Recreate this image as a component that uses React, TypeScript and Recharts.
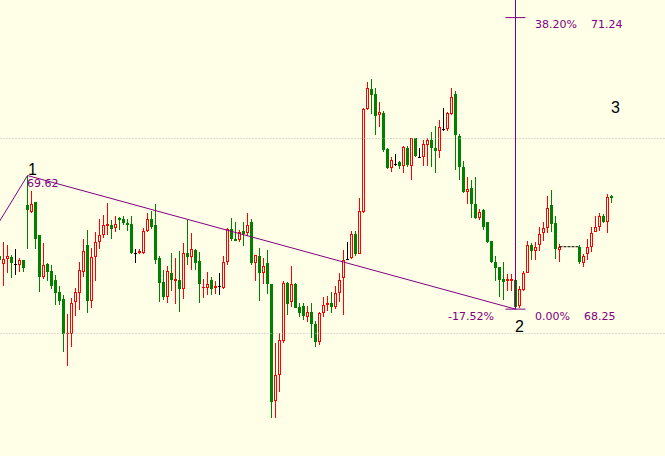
import { ComposedChart, Bar, XAxis, YAxis, ReferenceLine, ReferenceDot } from "recharts";

// bar index of the first value below (bars run -1 .. 152, 140-143 have no quotes)
const firstBar = -1;
const slotCount = 168;

const opens = [
  68.80, 68.71, 68.76, 68.78, 68.71, 68.70, 68.75, 69.32, 69.25, 69.35,
  69.01, 68.58, 68.71, 68.64, 68.55, 68.43, 68.35, 67.99, 67.99, 68.32,
  68.42, 68.63, 68.91, 68.33, 68.78, 68.94, 69.01, 69.10, 69.11, 69.08,
  69.18, 69.17, 69.13, 69.12, 68.83, 68.83, 68.83, 69.05, 69.17, 69.11,
  68.77, 68.53, 68.37, 68.62, 68.54, 68.55, 68.46, 68.83, 68.78, 68.86,
  68.74, 68.47, 68.47, 68.55, 68.47, 68.49, 68.47, 68.73, 69.07, 68.97,
  68.96, 69.05, 69.03, 69.14, 68.72, 68.80, 68.62, 68.72, 68.51, 67.31,
  67.57, 67.92, 68.52, 68.32, 68.51, 68.27, 68.28, 68.17, 68.22, 68.10,
  67.91, 68.21, 68.29, 68.31, 68.27, 68.42, 68.57, 68.76, 68.77, 69.02,
  68.82, 69.25, 70.30, 70.51, 70.46, 70.24, 70.26, 69.89, 69.70, 69.74,
  69.76, 69.72, 69.90, 69.72, 70.00, 69.81, 69.81, 69.93, 69.98, 69.90,
  69.87, 70.10, 70.10, 70.25, 70.46, 70.03, 69.71, 69.45, 69.49, 69.33,
  69.18, 69.27, 69.14, 68.95, 68.73, 68.68, 68.56, 68.54, 68.54, 68.55,
  68.28, 68.45, 68.62, 68.91, 68.85, 68.91, 69.03, 69.08, 69.32, 69.13,
  68.86, null, null, null, null, 68.89, 68.72, 68.82, 68.89, 69.04,
  69.09, 69.20, 69.14, 69.41,
];

const highs = [
  68.83, 68.94, 68.91, 68.81, 68.87, 68.77, 68.75, 69.62, 69.46, 69.35,
  69.01, 68.93, 68.72, 68.70, 68.60, 68.49, 68.39, 68.20, 68.36, 68.47,
  68.73, 68.97, 69.06, 68.88, 69.04, 69.17, 69.22, 69.34, 69.16, 69.20,
  69.19, 69.20, 69.17, 69.21, 68.87, 68.87, 69.08, 69.24, 69.26, 69.33,
  68.80, 68.65, 68.69, 68.83, 68.77, 68.85, 68.93, 69.16, 69.03, 68.87,
  68.84, 68.56, 68.63, 68.58, 68.54, 68.62, 68.80, 69.08, 69.18, 69.14,
  69.06, 69.14, 69.24, 69.17, 68.81, 68.88, 68.77, 68.86, 68.51, 67.90,
  68.01, 68.54, 68.53, 68.69, 68.52, 68.31, 68.31, 68.28, 68.31, 68.13,
  68.22, 68.37, 68.38, 68.43, 68.49, 68.62, 68.86, 68.94, 69.05, 69.05,
  69.39, 70.31, 70.58, 70.61, 70.52, 70.37, 70.28, 69.90, 69.81, 69.84,
  69.77, 69.92, 69.92, 70.01, 70.01, 69.90, 69.98, 70.01, 70.07, 70.13,
  70.19, 70.31, 70.27, 70.52, 70.49, 70.05, 69.77, 69.61, 69.57, 69.60,
  69.28, 69.28, 69.14, 68.95, 68.79, 68.68, 68.73, 68.61, 68.61, 68.56,
  68.49, 68.64, 68.95, 68.93, 68.94, 69.09, 69.14, 69.41, 69.47, 69.20,
  68.92, null, null, null, null, 68.91, 68.82, 68.97, 69.09, 69.21,
  69.24, 69.23, 69.43, 69.42,
];

const lows = [
  68.73, 68.49, 68.62, 68.57, 68.60, 68.63, 68.63, 68.87, 69.24, 68.87,
  68.43, 68.56, 68.54, 68.46, 68.29, 68.29, 67.81, 67.67, 67.86, 68.18,
  68.24, 68.58, 68.21, 68.26, 68.54, 68.87, 68.98, 69.01, 68.97, 69.04,
  69.06, 69.11, 69.05, 68.82, 68.72, 68.82, 68.82, 69.04, 69.07, 68.71,
  68.32, 68.34, 68.31, 68.44, 68.30, 68.22, 68.35, 68.70, 68.65, 68.65,
  68.31, 68.36, 68.40, 68.40, 68.41, 68.40, 68.46, 68.70, 68.95, 68.95,
  68.94, 68.90, 69.00, 68.70, 68.54, 68.33, 68.51, 68.41, 67.13, 67.13,
  67.40, 67.90, 68.19, 68.27, 68.26, 68.17, 68.14, 68.12, 67.95, 67.86,
  67.88, 68.17, 68.23, 68.21, 68.25, 68.32, 68.19, 68.76, 68.76, 68.79,
  68.82, 69.24, 70.29, 70.25, 70.04, 70.12, 69.86, 69.69, 69.66, 69.72,
  69.69, 69.65, 69.71, 69.57, 69.81, 69.80, 69.72, 69.72, 69.71, 69.65,
  69.80, 70.08, 70.08, 70.24, 69.68, 69.57, 69.44, 69.33, 69.18, 69.17,
  69.16, 69.06, 68.93, 68.72, 68.54, 68.37, 68.34, 68.44, 68.44, 68.25,
  68.26, 68.44, 68.62, 68.75, 68.75, 68.85, 68.95, 69.03, 69.04, 68.76,
  68.73, null, null, null, null, 68.71, 68.68, 68.75, 68.84, 69.04,
  69.05, 69.13, 69.03, 69.34,
];

const closes = [
  68.75, 68.76, 68.79, 68.72, 68.71, 68.75, 68.67, 69.27, 69.33, 68.97,
  68.58, 68.70, 68.63, 68.49, 68.42, 68.33, 67.99, 68.01, 68.31, 68.43,
  68.65, 68.85, 68.33, 68.78, 68.94, 69.01, 69.11, 69.12, 69.07, 69.12,
  69.16, 69.13, 69.11, 68.83, 68.83, 68.85, 69.05, 69.17, 69.09, 68.75,
  68.52, 68.37, 68.64, 68.55, 68.56, 68.46, 68.83, 68.78, 68.87, 68.72,
  68.51, 68.48, 68.51, 68.46, 68.49, 68.49, 68.73, 69.07, 68.97, 68.95,
  69.04, 69.02, 69.11, 68.72, 68.81, 68.62, 68.69, 68.51, 67.30, 67.57,
  67.93, 68.52, 68.30, 68.51, 68.26, 68.21, 68.18, 68.22, 68.10, 67.91,
  68.21, 68.29, 68.31, 68.27, 68.42, 68.55, 68.75, 68.76, 69.02, 68.82,
  69.26, 70.30, 70.52, 70.45, 70.23, 70.27, 69.88, 69.70, 69.78, 69.74,
  69.72, 69.91, 69.73, 70.00, 69.82, 69.81, 69.94, 69.98, 69.90, 69.87,
  70.12, 70.10, 70.26, 70.43, 70.04, 69.71, 69.45, 69.48, 69.33, 69.18,
  69.25, 69.09, 68.94, 68.73, 68.67, 68.55, 68.53, 68.56, 68.56, 68.27,
  68.46, 68.62, 68.91, 68.85, 68.89, 69.02, 69.08, 69.29, 69.12, 68.87,
  68.89, null, null, null, null, 68.73, 68.79, 68.89, 69.03, 69.09,
  69.21, 69.14, 69.40, 69.39,
];

// wave / fibonacci annotation points
const wavePoints = [
  { bar: -1, price: 69.15 },
  { bar: 6, price: 69.62 },
  { bar: 128, price: 68.25 },
];
const fibHigh = 71.24;
const fibLow = 68.25;
const gapLevel = 68.89;

const bg = "#ffffe8";
const up = "#ff0000";
const down = "#008000";
const purple = "#800080";

const data = Array.from({ length: slotCount }, (_, i) => ({
  k: i + firstBar,
  open: opens[i] ?? null,
  high: highs[i] ?? null,
  low: lows[i] ?? null,
  close: closes[i] ?? null,
  range: opens[i] == null ? null : [lows[i], highs[i]],
}));

function Candle(props: any) {
  const { x, width, payload } = props;
  let { y, height } = props;
  if (!payload || payload.open == null || height == null) return null;
  if (height < 0) {
    y = y + height;
    height = -height;
  }
  const { open, close, high, low } = payload;
  const span = high - low || 1;
  const toY = (p: number) => y + ((high - p) / span) * height;
  // chart sits 3px left of the page with a 0.5px plot margin, so this lands on whole pixels
  const base = Math.round(x + width / 2 - 2.5) + 1;
  const yh = Math.round(toY(high));
  const yl = Math.round(toY(low));
  const top = Math.round(toY(Math.max(open, close)));
  const bot = Math.round(toY(Math.min(open, close)));
  const bodyH = Math.max(1, bot - top);

  if (open === close) {
    return (
      <g shapeRendering="crispEdges">
        <rect x={base + 1} y={yh} width={1} height={Math.max(1, yl - yh)} fill="#000" />
        <rect x={base} y={top} width={3} height={1} fill="#000" />
      </g>
    );
  }
  const color = close > open ? up : down;
  return (
    <g shapeRendering="crispEdges">
      <rect x={base + 1} y={yh} width={1} height={Math.max(1, yl - yh)} fill={color} />
      <rect x={base} y={top} width={3} height={bodyH} fill={color} />
      {close > open && bodyH > 2 && (
        <rect x={base + 1} y={top + 1} width={1} height={bodyH - 2} fill={bg} />
      )}
    </g>
  );
}

function Tag(props: any) {
  const { viewBox, txt, tx, ty, fg, size, face, anchor } = props;
  if (!viewBox) return null;
  const cx = viewBox.x + (viewBox.width || 0) / 2;
  const cy = viewBox.y + (viewBox.height || 0) / 2;
  return (
    <text
      x={cx + tx}
      y={cy + ty}
      fill={fg}
      fontSize={size}
      fontFamily={face}
      textAnchor={anchor || "start"}
    >
      {txt}
    </text>
  );
}

const small = "DejaVu Sans";
const big = "Liberation Sans";

export default function App() {
  return (
    <div
      style={{
        position: "absolute",
        left: 0,
        top: 0,
        width: 665,
        height: 456,
        overflow: "hidden",
        background: bg,
      }}
    >
      <div style={{ position: "absolute", left: -3, top: 0 }}>
        <ComposedChart
          width={slotCount * 4 + 0.5}
          height={456}
          data={data}
          margin={{ top: 0, right: 0, bottom: 0, left: 0.5 }}
        >
          <XAxis dataKey="k" hide />
          <YAxis hide domain={[66.7436, 71.4205]} allowDataOverflow />
          <ReferenceLine y={70} stroke="#b8b8b8" strokeDasharray="1 2" />
          <ReferenceLine y={68} stroke="#b8b8b8" strokeDasharray="1 2" />
          <Bar
            dataKey="range"
            barSize={4}
            isAnimationActive={false}
            shape={(p: any) => <Candle {...p} />}
          />
          <ReferenceLine
            segment={[
              { x: wavePoints[0].bar, y: wavePoints[0].price },
              { x: wavePoints[1].bar, y: wavePoints[1].price },
            ]}
            stroke={purple}
          />
          <ReferenceLine
            segment={[
              { x: wavePoints[1].bar, y: wavePoints[1].price },
              { x: wavePoints[2].bar, y: wavePoints[2].price },
            ]}
            stroke={purple}
          />
          <ReferenceLine
            segment={[
              { x: 128, y: fibLow },
              { x: 128, y: 71.42 },
            ]}
            stroke={purple}
          />
          <ReferenceLine
            segment={[
              { x: 126, y: fibHigh },
              { x: 131, y: fibHigh },
            ]}
            position="start"
            stroke={purple}
          />
          <ReferenceLine
            segment={[
              { x: 126, y: fibLow },
              { x: 131, y: fibLow },
            ]}
            position="start"
            stroke={purple}
          />
          <ReferenceLine
            segment={[
              { x: 139, y: gapLevel },
              { x: 144, y: gapLevel },
            ]}
            stroke="#000"
            strokeDasharray="3 1"
          />
          <ReferenceDot
            x={6}
            y={69.62}
            r={0}
            fill="none"
            stroke="none"
            label={<Tag txt="69.62" tx={-0.5} ty={11.5} fg={purple} size={11} face={small} />}
          />
          <ReferenceDot
            x={6}
            y={69.62}
            r={0}
            fill="none"
            stroke="none"
            label={<Tag txt="1" tx={0.5} ty={-0.5} fg="#000" size={16} face={big} />}
          />
          <ReferenceDot
            x={128}
            y={fibHigh}
            r={0}
            fill="none"
            stroke="none"
            label={<Tag txt="38.20%" tx={19.5} ty={10.5} fg={purple} size={11} face={small} />}
          />
          <ReferenceDot
            x={128}
            y={fibHigh}
            r={0}
            fill="none"
            stroke="none"
            label={<Tag txt="71.24" tx={75.5} ty={10.5} fg={purple} size={11} face={small} />}
          />
          <ReferenceDot
            x={128}
            y={fibLow}
            r={0}
            fill="none"
            stroke="none"
            label={<Tag txt="0.00%" tx={19.5} ty={11} fg={purple} size={11} face={small} />}
          />
          <ReferenceDot
            x={128}
            y={fibLow}
            r={0}
            fill="none"
            stroke="none"
            label={<Tag txt="68.25" tx={68.5} ty={11} fg={purple} size={11} face={small} />}
          />
          <ReferenceDot
            x={128}
            y={fibLow}
            r={0}
            fill="none"
            stroke="none"
            label={<Tag txt="-17.52%" tx={-21.5} ty={11} fg={purple} size={11} face={small} anchor="end" />}
          />
          <ReferenceDot
            x={128}
            y={fibLow}
            r={0}
            fill="none"
            stroke="none"
            label={<Tag txt="2" tx={-0.5} ty={23} fg="#000" size={16} face={big} />}
          />
          <ReferenceDot
            x={152}
            y={70.25}
            r={0}
            fill="none"
            stroke="none"
            label={<Tag txt="3" tx={-0.5} ty={-1} fg="#000" size={16} face={big} />}
          />
        </ComposedChart>
      </div>
    </div>
  );
}
